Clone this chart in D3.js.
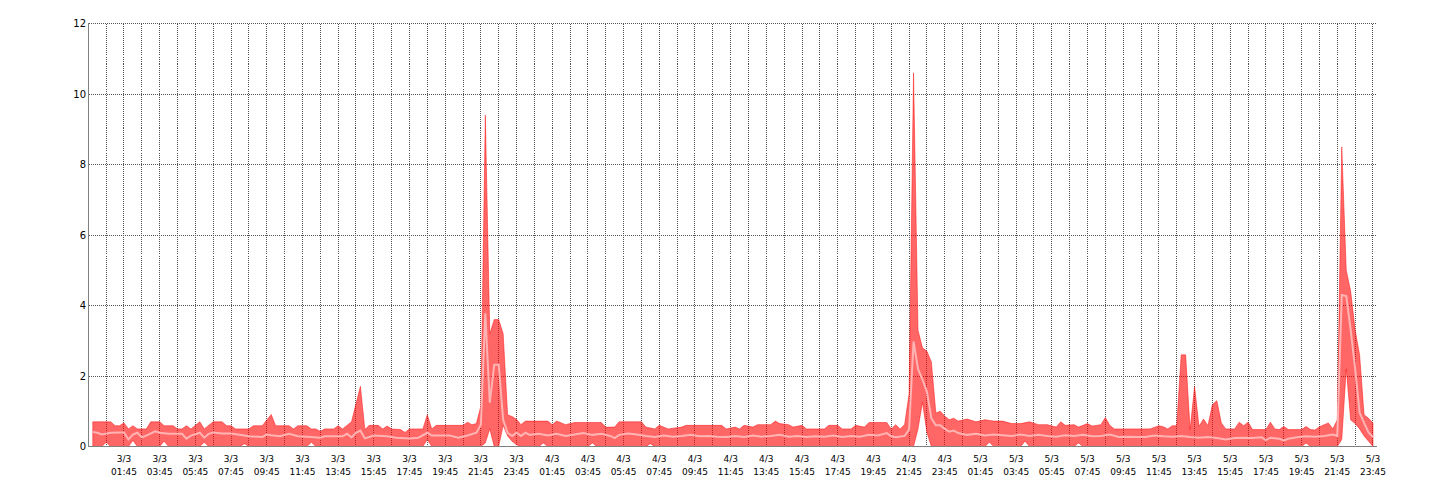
<!DOCTYPE html>
<html><head><meta charset="utf-8">
<script src="https://cdn.jsdelivr.net/npm/d3@7"></script>
<style>
body{margin:0;background:#fff}
svg{display:block}
text{font-family:"DejaVu Sans",Verdana,sans-serif;font-size:9px;fill:#000}
</style>
</head><body>
<svg id="chart" width="1440" height="500"></svg>
<script>
// hours since 3/3 00:00, value
const maxSeries=[[0,0.7],[1,0.7],[1.25,0.59],[1.5,0.59],[1.75,0.67],[2,0.5],[2.25,0.59],[2.5,0.5],[3,0.5],[3.25,0.7],[3.75,0.7],[4,0.59],[4.5,0.59],[4.75,0.5],[5,0.5],[5.25,0.59],[5.5,0.5],[6,0.7],[6.25,0.5],[6.75,0.7],[7.25,0.7],[7.5,0.59],[7.75,0.59],[8,0.5],[8.75,0.5],[9,0.59],[9.5,0.59],[10,0.91],[10.25,0.59],[11,0.59],[11.25,0.5],[11.5,0.59],[12,0.59],[12.25,0.5],[12.5,0.5],[12.75,0.43],[13,0.5],[13.5,0.5],[13.75,0.59],[14,0.5],[14.5,0.7],[15,1.71],[15.25,0.48],[15.5,0.6],[16,0.6],[16.25,0.5],[16.5,0.58],[16.75,0.5],[17.25,0.48],[17.5,0.4],[17.75,0.5],[18.5,0.5],[18.75,0.9],[19,0.5],[19.25,0.6],[20.75,0.6],[21,0.69],[21.25,0.62],[21.5,0.65],[21.75,1.15],[22,9.4],[22.25,3.2],[22.5,3.6],[22.75,3.6],[23,3.2],[23.25,0.9],[23.5,0.85],[23.75,0.77],[24,0.62],[24.25,0.72],[25.5,0.72],[25.75,0.62],[26,0.72],[26.5,0.62],[27,0.68],[28.5,0.68],[28.75,0.55],[29.25,0.55],[29.5,0.7],[30.75,0.7],[31,0.55],[31.5,0.5],[31.75,0.6],[32.25,0.5],[33,0.55],[33.25,0.6],[35.25,0.6],[35.5,0.5],[36,0.55],[36.25,0.5],[36.5,0.6],[37,0.55],[37.25,0.62],[38,0.62],[38.25,0.72],[38.5,0.65],[39,0.62],[39.25,0.55],[39.75,0.6],[40,0.5],[41,0.5],[41.25,0.6],[41.75,0.6],[42,0.5],[42.5,0.5],[42.75,0.6],[43.25,0.55],[43.5,0.68],[44.5,0.68],[44.75,0.5],[45,0.62],[45.25,0.5],[45.5,0.62],[45.75,1.5],[46,10.6],[46.25,3.3],[46.5,2.8],[46.75,2.7],[47,2.4],[47.25,0.95],[47.5,1.0],[47.75,0.86],[48,0.76],[48.25,0.8],[48.5,0.72],[49,0.78],[49.5,0.7],[50,0.76],[50.5,0.72],[51,0.72],[51.5,0.65],[52,0.65],[52.5,0.7],[53,0.62],[53.5,0.62],[54,0.55],[54.25,0.7],[54.5,0.6],[55,0.62],[55.25,0.55],[55.5,0.6],[55.75,0.65],[56,0.58],[56.5,0.62],[56.75,0.82],[57,0.6],[57.25,0.5],[59.25,0.5],[59.75,0.59],[60,0.56],[60.25,0.5],[60.5,0.59],[60.75,0.59],[61,2.6],[61.25,2.6],[61.5,0.48],[61.75,1.7],[62,0.57],[62.25,0.78],[62.5,0.59],[62.75,1.19],[63,1.3],[63.25,0.67],[63.5,0.5],[64,0.5],[64.25,0.69],[64.5,0.59],[64.75,0.69],[65,0.48],[65.75,0.48],[66,0.69],[66.25,0.5],[66.5,0.48],[66.75,0.57],[67,0.48],[67.75,0.48],[68,0.57],[68.25,0.48],[68.5,0.47],[68.75,0.56],[69.25,0.67],[69.5,0.5],[69.75,0.76],[70,8.5],[70.25,5.0],[70.5,4.4],[70.75,3.3],[71,2.6],[71.25,0.9],[71.5,0.8],[71.75,0.67]];

const minSeries=[[0,0],[0.5,0],[0.75,0.12],[1,0],[2,0],[2.25,0.17],[2.5,0],[3.75,0],[4,0.15],[4.25,0],[6,0],[6.25,0.12],[6.5,0],[8.25,0],[8.5,0.08],[8.75,0],[12,0],[12.25,0.12],[12.5,0],[18.5,0],[18.75,0.2],[19,0],[21.75,0],[22,0.1],[22.25,0.5],[22.5,0],[22.75,0],[23,0.6],[23.25,0.3],[23.5,0.15],[23.75,0.05],[24,0],[25,0],[25.25,0.1],[25.5,0],[27.75,0],[28,0.1],[28.25,0],[31,0],[31.25,0.08],[31.5,0],[46,0],[46.25,0.5],[46.5,1.25],[46.75,0.4],[47,0],[50,0],[50.25,0.12],[50.5,0],[52,0],[52.25,0.15],[52.5,0],[55,0],[55.25,0.1],[55.5,0],[67.75,0],[68,0.1],[68.25,0],[69.75,0],[70,0.2],[70.25,2.2],[70.5,0.75],[70.75,0.65],[71,0.5],[71.25,0.3],[71.5,0.15],[71.75,0]];

const avgSeries=[[0,0.41],[0.25,0.39],[0.5,0.34],[1,0.39],[1.5,0.4],[1.75,0.4],[2,0.2],[2.25,0.34],[2.5,0.39],[2.75,0.26],[3,0.31],[3.5,0.43],[3.75,0.39],[4.25,0.36],[5,0.36],[5.25,0.22],[5.5,0.31],[6,0.39],[6.25,0.25],[6.5,0.36],[6.75,0.4],[7.25,0.37],[7.75,0.37],[8.5,0.31],[8.75,0.29],[9.5,0.27],[9.75,0.34],[10,0.32],[10.5,0.29],[11,0.36],[11.5,0.29],[12.25,0.27],[12.75,0.25],[13,0.29],[14,0.29],[14.25,0.36],[14.5,0.26],[14.75,0.39],[15,0.45],[15.25,0.23],[15.75,0.31],[16.5,0.29],[17,0.25],[17.75,0.23],[18.25,0.25],[18.75,0.39],[19,0.31],[20,0.31],[20.5,0.25],[21,0.31],[21.5,0.39],[21.75,0.62],[22,3.78],[22.25,1.24],[22.5,2.32],[22.75,2.32],[23,0.76],[23.25,0.39],[23.5,0.3],[23.75,0.39],[24,0.3],[24.25,0.39],[24.5,0.33],[25,0.36],[25.5,0.31],[26,0.36],[26.5,0.3],[27,0.34],[27.5,0.38],[28,0.33],[28.5,0.36],[29,0.3],[29.25,0.24],[29.5,0.33],[30,0.37],[30.5,0.34],[31,0.3],[31.5,0.27],[32,0.31],[32.5,0.28],[33,0.3],[33.5,0.33],[34,0.29],[34.5,0.3],[35,0.28],[35.5,0.27],[36,0.3],[36.5,0.27],[37,0.31],[37.5,0.28],[38,0.3],[38.5,0.33],[39,0.28],[39.5,0.3],[40,0.27],[40.5,0.29],[41,0.28],[41.5,0.31],[42,0.27],[42.5,0.3],[43,0.28],[43.5,0.33],[44,0.31],[44.5,0.38],[44.75,0.29],[45,0.26],[45.5,0.3],[45.75,0.48],[46,2.98],[46.25,2.2],[46.5,1.9],[46.75,1.55],[47,0.8],[47.25,0.6],[47.5,0.6],[47.75,0.5],[48,0.42],[48.25,0.45],[48.5,0.38],[49,0.33],[49.5,0.36],[50,0.31],[50.5,0.34],[51,0.32],[51.5,0.3],[52,0.34],[52.5,0.3],[53,0.33],[53.5,0.3],[54,0.28],[54.5,0.32],[55,0.3],[55.5,0.33],[56,0.29],[56.5,0.3],[57,0.34],[57.5,0.27],[58,0.28],[58.5,0.27],[59,0.27],[59.5,0.31],[60,0.29],[60.5,0.28],[61,0.3],[61.5,0.27],[62,0.25],[62.5,0.27],[63,0.24],[63.5,0.2],[64,0.24],[64.5,0.25],[65,0.24],[65.5,0.26],[65.75,0.18],[66,0.25],[66.5,0.22],[66.75,0.17],[67,0.22],[67.5,0.26],[68,0.29],[68.5,0.28],[69,0.3],[69.5,0.34],[69.75,0.3],[70,4.3],[70.25,4.27],[70.5,3.3],[70.75,2.2],[71,0.96],[71.25,0.67],[71.5,0.4],[71.75,0.27]];

const yTicks=[0,2,4,6,8,10,12];
const xTickLabels=["3/3 01:45","3/3 03:45","3/3 05:45","3/3 07:45","3/3 09:45","3/3 11:45","3/3 13:45","3/3 15:45","3/3 17:45","3/3 19:45","3/3 21:45","3/3 23:45",
"4/3 01:45","4/3 03:45","4/3 05:45","4/3 07:45","4/3 09:45","4/3 11:45","4/3 13:45","4/3 15:45","4/3 17:45","4/3 19:45","4/3 21:45","4/3 23:45",
"5/3 01:45","5/3 03:45","5/3 05:45","5/3 07:45","5/3 09:45","5/3 11:45","5/3 13:45","5/3 15:45","5/3 17:45","5/3 19:45","5/3 21:45","5/3 23:45"];

const svg=d3.select("#chart");
const x=d3.scaleLinear().domain([-0.25,72]).range([88.31,1377.46]);
const y=d3.scaleLinear().domain([0,12]).range([446.5,23.5]);
const px=v=>Math.floor(v)+0.5;

function labelHour(s){
  const [d,t]=s.split(" ");
  const day=+d.split("/")[0];
  const [hh,mm]=t.split(":").map(Number);
  return (day-3)*24+hh+mm/60;
}

// grid (under the translucent band)
const grid=svg.append("g").attr("shape-rendering","crispEdges");
grid.selectAll("line.h").data(yTicks.filter(v=>v>0)).join("line")
  .attr("x1",89).attr("x2",x(72))
  .attr("y1",d=>px(y(d))).attr("y2",d=>px(y(d)))
  .attr("stroke","#555").attr("stroke-dasharray","1,1");
const gridHours=d3.range(0.75,72,1);
grid.selectAll("line.v").data(gridHours).join("line")
  .attr("x1",d=>px(x(d))).attr("x2",d=>px(x(d)))
  .attr("y1",y(12)).attr("y2",y(0))
  .attr("stroke","#555").attr("stroke-dasharray","1,1");

// band
const line=d3.line().x(d=>x(d[0])).y(d=>y(d[1]));
svg.append("path")
  .attr("d",line(maxSeries.concat(minSeries.slice().reverse()))+"Z")
  .attr("fill","#ff0000").attr("fill-opacity",0.6)
  .attr("stroke","#ff0000").attr("stroke-opacity",0.45)
  .attr("stroke-width",1);

// avg line
svg.append("path")
  .attr("d",line(avgSeries))
  .attr("fill","none")
  .attr("stroke","#ffb4b4")
  .attr("stroke-width",2);

// axes
const ax=svg.append("g").attr("shape-rendering","crispEdges");
ax.append("line").attr("x1",px(x(-0.25))).attr("x2",px(x(-0.25))).attr("y1",y(12)-0.5).attr("y2",y(0)+0.5).attr("stroke","#808080");
ax.append("line").attr("x1",px(x(-0.25))).attr("x2",x(72)).attr("y1",y(0)).attr("y2",y(0)).attr("stroke","#808080");

svg.append("g").selectAll("text").data(yTicks).join("text")
  .attr("x",86).attr("y",d=>y(d)).attr("dy","0.36em")
  .attr("text-anchor","end").style("font-size","10px")
  .text(d=>d);

const xl=svg.append("g").selectAll("text").data(xTickLabels).join("text")
  .attr("text-anchor","middle");
xl.append("tspan").attr("x",d=>x(labelHour(d))).attr("y",462).text(d=>d.split(" ")[0]);
xl.append("tspan").attr("x",d=>x(labelHour(d))).attr("y",475).text(d=>d.split(" ")[1]);
</script>
</body></html>
